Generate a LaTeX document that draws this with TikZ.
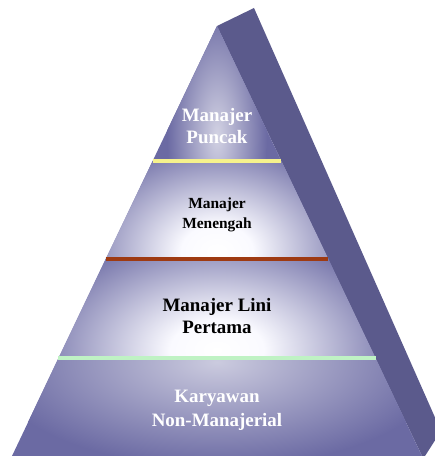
\documentclass[tikz,border=0pt]{standalone}
\usepackage{fontspec}
\setmainfont{Liberation Serif}
\pgfdeclareradialshading{glow}{\pgfpoint{0bp}{0bp}}{rgb(0bp)=(1,1,1); rgb(6bp)=(0.98,0.98,1); rgb(25bp)=(0.42,0.416,0.64); rgb(50bp)=(0.42,0.416,0.64)}
\begin{document}
\begin{tikzpicture}[x=1bp,y=-1bp,
  lbl/.style 2 args={align=center,inner sep=0pt,font=\bfseries\fontsize{#1}{#2}\selectfont},
  divider/.style={line width=4bp}]
\definecolor{pyr}{HTML}{6B6AA3}
\definecolor{pyrside}{HTML}{5B5A8C}
\definecolor{lnY}{HTML}{F6F28C}
\definecolor{lnB}{HTML}{9E3A12}
\definecolor{lnG}{HTML}{BFF2C4}
\useasboundingbox (0,0) rectangle (435,456);
\clip (0,0) rectangle (435,456);
% corner points
\coordinate (apex) at (217,26);
\coordinate (bapex) at (254,8);
\coordinate (bl) at (12,456);
\coordinate (br) at (422,456);
% side face
\fill[pyrside] (apex) -- (bapex) -- (441,431) -- (425,456) -- (br) -- cycle;
% front face base
\fill[pyr] (apex) -- (bl) -- (br) -- cycle;
% band points
\coordinate (y1l) at (152.6,161); \coordinate (y1r) at (281.4,161);
\coordinate (b1l) at (105.6,259); \coordinate (b1r) at (328.4,259);
\coordinate (g1l) at (58.4,358); \coordinate (g1r) at (375.6,358);
% band 1 glow
\begin{scope}
\clip (apex) -- (y1l) -- (y1r) -- cycle;
\shade[inner color=pyr!30!white, outer color=pyr] (217,135) ellipse (50 and 130);
\end{scope}
% band 2 glow
\begin{scope}
\clip (y1l) -- (b1l) -- (b1r) -- (y1r) -- cycle;
\shade[shading=glow] (217,252) ellipse (150 and 115);
\end{scope}
% band 3 glow
\begin{scope}
\clip (b1l) -- (g1l) -- (g1r) -- (b1r) -- cycle;
\shade[shading=glow] (217,350) ellipse (195 and 125);
\end{scope}
% band 4 glow
\begin{scope}
\clip (g1l) -- (bl) -- (br) -- (g1r) -- cycle;
\shade[inner color=pyr!35!white, outer color=pyr] (217,362) ellipse (230 and 105);
\end{scope}
% dividers
\draw[divider,lnY] (y1l) -- (y1r);
\draw[divider,lnB] (b1l) -- (b1r);
\draw[divider,lnG] (g1l) -- (g1r);
% labels
\node[lbl={19}{22},text=white] (top) at (217,126) {Manajer\\Puncak};
\node[lbl={15.5}{20},text=black] (mid) at (217,215) {Manajer\\Menengah};
\node[lbl={19}{23},text=black] (first) at (217,316) {Manajer Lini\\Pertama};
\node[lbl={19}{24},text=white] (staff) at (217,410) {Karyawan\\Non-Manajerial};
\end{tikzpicture}
\end{document}
